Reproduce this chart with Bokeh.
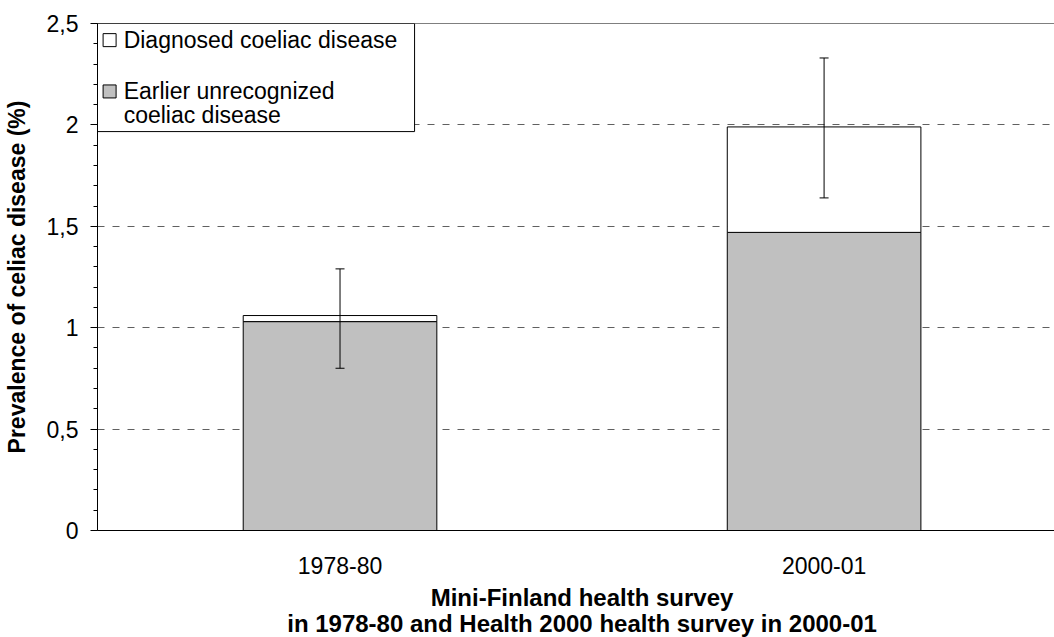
from bokeh.plotting import figure
from bokeh.layouts import column
from bokeh.models import (ColumnDataSource, Range1d, FixedTicker, Span, Label,
                          Whisker, TeeHead, CustomJSTickFormatter)
from bokeh.embed import file_html
from bokeh.resources import INLINE

# ---- data ----
categories = ["1978-80", "2000-01"]
unrecognized = [1.03, 1.47]          # earlier unrecognized coeliac disease (%)
diagnosed = [0.03, 0.52]             # diagnosed coeliac disease (%), stacked on top
ci_low = [0.80, 1.64]
ci_high = [1.29, 2.33]
y_ticks = [0, 0.5, 1, 1.5, 2, 2.5]
x_title = ["Mini-Finland health survey",
           "in 1978-80 and Health 2000 health survey in 2000-01"]

FONT = "Liberation Sans"
GRAY = "#C0C0C0"

xpos = list(range(len(categories)))
src = ColumnDataSource(dict(x=xpos, unrec=unrecognized, diag=diagnosed,
                            lo=ci_low, hi=ci_high))

x_start, x_end = -0.501, 1.476
p = figure(width=1054, height=580, output_backend="svg", toolbar_location=None,
           x_range=Range1d(x_start, x_end), y_range=Range1d(0, 2.5),
           min_border_left=97, min_border_right=0, min_border_top=23,
           min_border_bottom=50)
p.outline_line_color = None
p.background_fill_color = "white"
p.border_fill_color = "white"

# grid
p.xgrid.visible = False
p.ygrid.ticker = FixedTicker(ticks=[t for t in y_ticks if 0 < t < 2.5])
p.ygrid.grid_line_color = "#606060"
p.ygrid.grid_line_dash = "7 8"
p.ygrid.grid_line_width = 1

# legend box (drawn as glyph so it sits above the grid)
p.quad(left=[x_start], right=[0.154], bottom=[1.967], top=[2.5],
       fill_color="white", line_color="black", line_width=1)

# bars
p.vbar_stack(["unrec", "diag"], x="x", width=0.4, source=src,
             fill_color=[GRAY, "white"], line_color="black", line_width=1)

# error bars
wh = Whisker(base="x", lower="lo", upper="hi", source=src,
             line_color="black", line_width=1, level="annotation",
             upper_head=TeeHead(size=9, line_color="black", line_width=1),
             lower_head=TeeHead(size=9, line_color="black", line_width=1))
p.add_layout(wh)

# top frame line
p.add_layout(Span(location=2.5, dimension="width", line_color="black", line_width=1))

# legend content
p.scatter(x=[-0.476, -0.476], y=[2.418, 2.165], marker="square", size=13,
          fill_color=["white", GRAY], line_color="black", line_width=1)
for txt, yy in [("Diagnosed coeliac disease", 2.421),
                ("Earlier unrecognized", 2.166),
                ("coeliac disease", 2.050)]:
    p.add_layout(Label(x=-0.447, y=yy, text=txt, text_font=FONT,
                       text_font_size="23px", text_color="black",
                       text_baseline="alphabetic", text_align="left"))

# y axis
p.yaxis.ticker = FixedTicker(ticks=y_ticks, minor_ticks=[i / 10 for i in range(26)])
p.yaxis.formatter = CustomJSTickFormatter(code="return tick.toString().replace('.', ',');")
p.yaxis.axis_label = "Prevalence of celiac disease (%)"
p.yaxis.major_tick_out = 7
p.yaxis.major_tick_in = 0
p.yaxis.minor_tick_out = 4
p.yaxis.minor_tick_in = 0
p.yaxis.major_label_standoff = 12
p.yaxis.axis_label_standoff = 14

# x axis
p.xaxis.ticker = FixedTicker(ticks=xpos)
p.xaxis.formatter = CustomJSTickFormatter(args=dict(labels=categories),
                                          code="return labels[Math.round(tick)];")
p.xaxis.major_tick_out = 0
p.xaxis.major_tick_in = 0
p.xaxis.minor_tick_out = 0
p.xaxis.minor_tick_in = 0
p.xaxis.major_label_standoff = 26
p.xaxis.major_label_text_line_height = 1.0

for ax in (p.xaxis, p.yaxis):
    ax.axis_line_color = "black"
    ax.axis_line_width = 1
    ax.major_tick_line_color = "black"
    ax.minor_tick_line_color = "black"
    ax.major_label_text_font = FONT
    ax.major_label_text_font_size = "23px"
    ax.major_label_text_color = "black"
    ax.axis_label_text_font = FONT
    ax.axis_label_text_font_style = "bold"
    ax.axis_label_text_color = "black"
p.yaxis.axis_label_text_font_size = "23px"

# x-axis title: a strip below the chart sharing the chart's x scale
t = figure(width=1054, height=57, output_backend="svg", toolbar_location=None,
           x_range=p.x_range, y_range=Range1d(0, 57),
           x_axis_location=None, y_axis_location=None,
           min_border_left=97, min_border_right=0, min_border_top=0,
           min_border_bottom=0)
t.outline_line_color = None
t.grid.visible = False
t.background_fill_color = "white"
t.border_fill_color = "white"
mid = (xpos[0] + xpos[-1]) / 2
for txt, yy in zip(x_title, [40, 14]):
    t.add_layout(Label(x=mid, y=yy, text=txt, text_font=FONT,
                       text_font_size="24px", text_font_style="bold",
                       text_color="black", text_align="center",
                       text_baseline="alphabetic"))

open("out.html", "w").write(file_html(column(p, t, spacing=0), INLINE))
